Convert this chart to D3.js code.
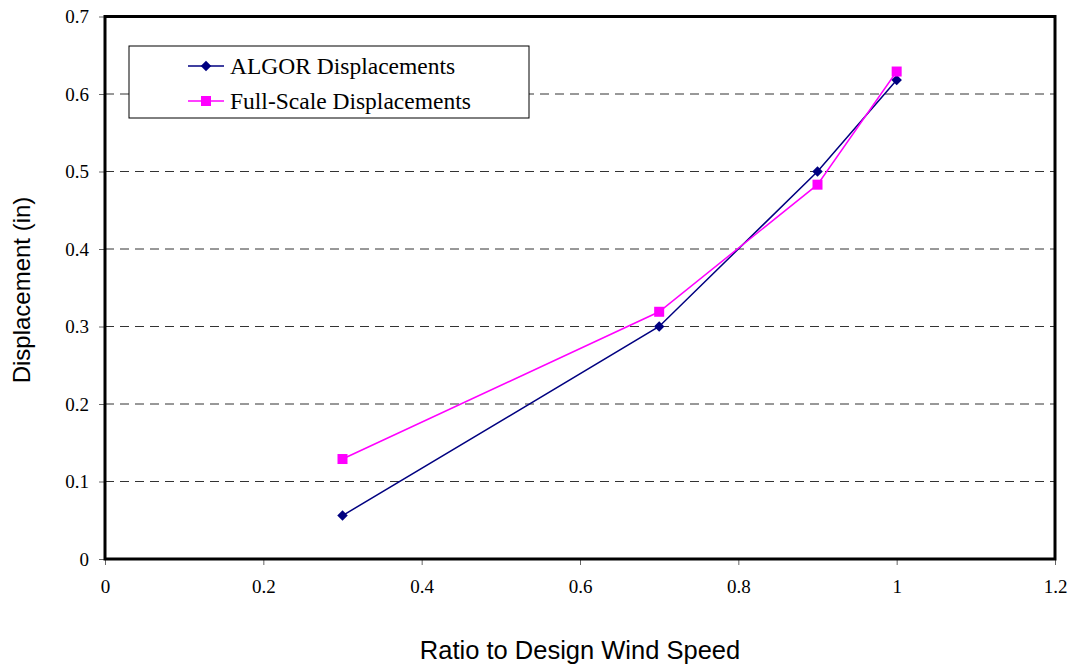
<!DOCTYPE html>
<html><head><meta charset="utf-8">
<script src="https://cdn.jsdelivr.net/npm/d3@7"></script>
<style>body{margin:0;background:#fff}</style>
</head><body><svg id="c" width="1077" height="669"></svg>
<script>
const xValues = [0.3, 0.7, 0.9, 1.0];
const algorValues = [0.056, 0.300, 0.500, 0.618];
const fullScaleValues = [0.129, 0.319, 0.483, 0.629];
const xTicks = [0, 0.2, 0.4, 0.6, 0.8, 1, 1.2];
const yTicks = [0, 0.1, 0.2, 0.3, 0.4, 0.5, 0.6, 0.7];
const seriesNames = ["ALGOR Displacements", "Full-Scale Displacements"];

const svg = d3.select("#c");
const L = 105, R = 1055, T = 16.5, B = 559;
const x = d3.scaleLinear().domain([0, 1.2]).range([L, R]);
const y = d3.scaleLinear().domain([0, 0.7]).range([B, T]);

// gridlines
svg.append("g").selectAll("line").data(yTicks.filter(d => d > 0 && d < 0.7)).join("line")
  .attr("x1", L).attr("x2", R).attr("y1", d => y(d)).attr("y2", d => y(d))
  .attr("stroke", "#333").attr("stroke-width", 1).attr("stroke-dasharray", "9,6");

// axes
const serif = "'Liberation Serif', 'Times New Roman', serif";
const xAxis = svg.append("g").attr("transform", `translate(0,${B})`)
  .call(d3.axisBottom(x).tickValues(xTicks).tickSize(6).tickPadding(15).tickFormat(d => +d.toFixed(1)));
const yAxis = svg.append("g").attr("transform", `translate(${L},0)`)
  .call(d3.axisLeft(y).tickValues(yTicks).tickSize(6).tickPadding(10).tickFormat(d => +d.toFixed(1)));
[xAxis, yAxis].forEach(a => {
  a.select(".domain").remove();
  a.selectAll("line").attr("stroke", "#666");
  a.selectAll("text").attr("font-family", serif).attr("font-size", 19).attr("fill", "#000");
});

// border
svg.append("rect").attr("x", L).attr("y", T).attr("width", R - L).attr("height", B - T)
  .attr("fill", "none").attr("stroke", "#000").attr("stroke-width", 3);

const colors = ["#000080", "#FF00FF"];
const data = [algorValues, fullScaleValues];
const line = d3.line().x((d, i) => x(xValues[i])).y(d => y(d));
data.forEach((vals, k) => {
  svg.append("path").datum(vals).attr("d", line).attr("fill", "none")
    .attr("stroke", colors[k]).attr("stroke-width", 1.5);
});
// markers
function marker(g, k, cx, cy) {
  if (k === 0) {
    g.append("path").attr("d", d3.symbol(d3.symbolDiamond2, 70)())
      .attr("transform", `translate(${cx},${cy})`).attr("fill", colors[0]);
  } else {
    g.append("rect").attr("x", cx - 5).attr("y", cy - 5).attr("width", 10).attr("height", 10).attr("fill", colors[1]);
  }
}
const mg = svg.append("g");
data.forEach((vals, k) => vals.forEach((v, i) => marker(mg, k, x(xValues[i]), y(v))));

// legend
const lg = svg.append("g");
lg.append("rect").attr("x", 129).attr("y", 46).attr("width", 400).attr("height", 72)
  .attr("fill", "#fff").attr("stroke", "#000").attr("stroke-width", 1);
seriesNames.forEach((name, k) => {
  const ly = 66 + k * 35;
  lg.append("line").attr("x1", 188).attr("x2", 224).attr("y1", ly).attr("y2", ly)
    .attr("stroke", colors[k]).attr("stroke-width", 1.5);
  marker(lg, k, 206, ly);
  lg.append("text").attr("x", 230).attr("y", ly + 8).text(name)
    .attr("font-family", serif).attr("font-size", 23.5).attr("fill", "#000");
});

// axis titles
const sans = "'Liberation Sans', Arial, sans-serif";
svg.append("text").attr("x", 580).attr("y", 659).attr("text-anchor", "middle")
  .attr("font-family", sans).attr("font-size", 25.5).text("Ratio to Design Wind Speed");
svg.append("text").attr("transform", "translate(30,290) rotate(-90)").attr("text-anchor", "middle")
  .attr("font-family", sans).attr("font-size", 24).text("Displacement (in)");
</script></body></html>
